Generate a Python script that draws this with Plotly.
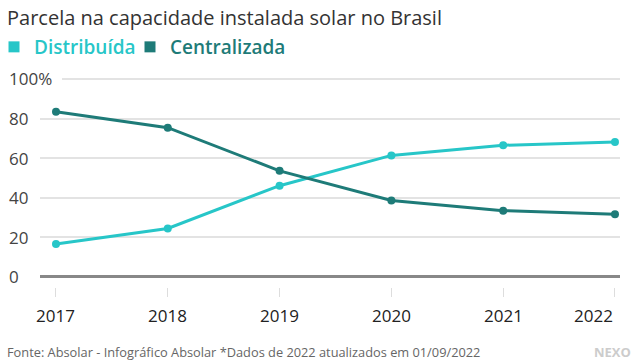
import plotly.graph_objects as go

years = [2017, 2018, 2019, 2020, 2021, 2022]
distribuida = [16.6, 24.5, 46.1, 61.4, 66.5, 68.2]
centralizada = [83.4, 75.4, 53.6, 38.6, 33.5, 31.7]
series_names = ["Distribuída", "Centralizada"]
series_colors = ["#27c6c8", "#1e7b78"]
y_ticks = [0, 20, 40, 60, 80, 100]
y_tick_labels = ["0", "20", "40", "60", "80", "100%"]
x_tick_labels = ["2017", "2018", "2019", "2020", "2021", "2022"]

title_text = "Parcela na capacidade instalada solar no Brasil"
source_text = "Fonte: Absolar - Infográfico Absolar *Dados de 2022 atualizados em 01/09/2022"

FONT = "Open Sans"
legend_ids = ["legend", "legend2"]

fig = go.Figure()

for name, vals, col, lg in zip(series_names, [distribuida, centralizada], series_colors, legend_ids):
    fig.add_trace(go.Scatter(
        x=years, y=vals, mode="lines+markers", name=name,
        line=dict(color=col, width=3), marker=dict(color=col, size=8),
        showlegend=False, hoverinfo="skip", cliponaxis=False))
    fig.add_trace(go.Scatter(
        x=[None], y=[None], mode="markers", legend=lg,
        name=f"<span style='color:{col}'>{name}</span>",
        marker=dict(color=col, size=11, symbol="square"), showlegend=True))

annotations = []
for v, lab in zip(y_ticks, y_tick_labels):
    annotations.append(dict(
        xref="paper", yref="y", x=-33 / 580, y=v, text=lab, showarrow=False,
        xanchor="left", yanchor="middle",
        font=dict(family=FONT, size=17, color="#444444")))
for i, (yr, lab) in enumerate(zip(years, x_tick_labels)):
    last = i == len(years) - 1
    annotations.append(dict(
        xref="x", yref="paper", x=yr, y=0, yshift=-28, text=lab, showarrow=False,
        xanchor="right" if last else "center", yanchor="middle",
        font=dict(family=FONT, size=17, color="#222222")))
annotations.append(dict(
    xref="paper", yref="paper", x=-35 / 580, y=1, yshift=77 - 17, text=title_text,
    showarrow=False, xanchor="left", yanchor="middle",
    font=dict(family=FONT, size=20, color="#333333")))
annotations.append(dict(
    xref="paper", yref="paper", x=-35 / 580, y=0, yshift=-65, text=source_text,
    showarrow=False, xanchor="left", yanchor="middle",
    font=dict(family=FONT, size=12.8, color="#666666")))
annotations.append(dict(
    xref="paper", yref="paper", x=1 + 13 / 580, y=0, yshift=-65, text="<b>NEXO</b>",
    showarrow=False, xanchor="right", yanchor="middle",
    font=dict(family=FONT, size=13, color="#cccccc")))

legend_common = dict(orientation="h", xref="paper", yref="container",
                     y=1 - 47 / 360, xanchor="left", yanchor="middle",
                     font=dict(family=FONT, size=19, weight=600),
                     itemwidth=30, bgcolor="rgba(0,0,0,0)")

fig.update_layout(
    width=640, height=360,
    margin=dict(l=40, r=20, t=77, b=73, autoexpand=False),
    paper_bgcolor="white", plot_bgcolor="white",
    font=dict(family=FONT),
    showlegend=True,
    legend=dict(x=-46 / 580, **legend_common),
    legend2=dict(x=90 / 580, **legend_common),
    xaxis=dict(range=[2016.857, 2022.045], showgrid=False, zeroline=False,
               showline=False, tickvals=years, showticklabels=False,
               ticks="outside", ticklen=9, tickcolor="#dddddd", tickwidth=1),
    yaxis=dict(range=[-5.07, 101], tickvals=y_ticks, showticklabels=False,
               showgrid=True, gridcolor="#e3e3e3", gridwidth=1.5,
               zeroline=True, zerolinecolor="#888888", zerolinewidth=2.5,
               showline=False, ticks=""),
    annotations=annotations,
    shapes=[dict(type="rect", xref="paper", yref="y", x0=0, x1=22 / 580,
                 y0=99, y1=101, fillcolor="white", line=dict(width=0),
                 layer="above")],
)

fig.write_html("out.html", config={"displayModeBar": False},
               post_script="document.body.style.margin='0';")
